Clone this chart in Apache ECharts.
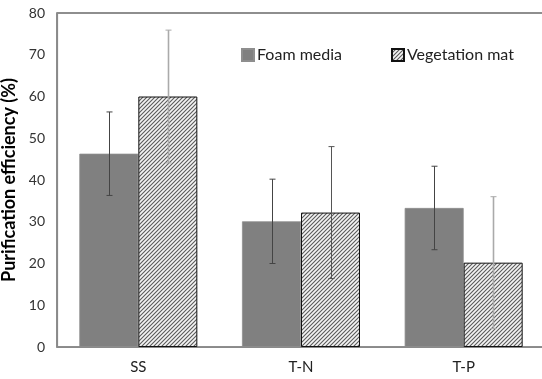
<!DOCTYPE html>
<html>
<head>
<meta charset="utf-8">
<script src="https://cdn.jsdelivr.net/npm/echarts@6/dist/echarts.min.js"></script>
<style>
html,body{margin:0;padding:0;background:#fff;}
#chart{width:542px;height:379px;}
</style>
</head>
<body>
<div id="chart"></div>
<script>
const categories = ['SS', 'T-N', 'T-P'];
const seriesNames = ['Foam media', 'Vegetation mat'];
const foamValues = [46.3, 30.1, 33.3];
const foamErrors = [10.0, 10.1, 10.0];
const vegValues = [60.0, 32.2, 20.2];
const vegErrors = [15.9, 15.8, 15.8];
const yTicks = [0, 10, 20, 30, 40, 50, 60, 70, 80];

// hatch pattern
const pc = document.createElement('canvas');
pc.width = 4; pc.height = 4;
const ctx = pc.getContext('2d');
ctx.fillStyle = '#f4f4f4';
ctx.fillRect(0, 0, 4, 4);
ctx.strokeStyle = '#5a5a5a';
ctx.lineWidth = 1.1;
ctx.beginPath();
ctx.moveTo(-1, 5); ctx.lineTo(5, -1);
ctx.moveTo(-1, 1); ctx.lineTo(1, -1);
ctx.moveTo(3, 5); ctx.lineTo(5, 3);
ctx.stroke();

const FONT = 'Lato, "Open Sans", sans-serif';
const errStyle = [
  ['#444', '#444', '#444'],
  ['#aaa', '#555', '#aaa']
];

function errSeries(vals, errs, sIdx) {
  const data = vals.map((v, i) => [i, v - errs[i], v + errs[i]]);
  return {
    type: 'custom',
    z: 10,
    silent: true,
    renderItem: function (params, api) {
      const i = api.value(0);
      const lo = api.coord([i, api.value(1)]);
      const hi = api.coord([i, api.value(2)]);
      const offset = (sIdx === 0 ? -1 : 1) * 29.5;
      const x = Math.round(lo[0] + offset) + 0.5;
      const col = errStyle[sIdx][i];
      const w = col === '#aaa' ? 1.6 : 1;
      const cap = 3;
      return {
        type: 'group',
        children: [
          {type: 'line', shape: {x1: x, y1: lo[1], x2: x, y2: hi[1]}, style: {stroke: col, lineWidth: w}},
          {type: 'line', shape: {x1: x - cap, y1: lo[1], x2: x + cap, y2: lo[1]}, style: {stroke: col, lineWidth: 1}},
          {type: 'line', shape: {x1: x - cap, y1: hi[1], x2: x + cap, y2: hi[1]}, style: {stroke: col, lineWidth: 1}}
        ]
      };
    },
    data: data
  };
}

const chart = echarts.init(document.getElementById('chart'), null, {renderer: 'canvas'});
chart.setOption({
  animation: false,
  backgroundColor: '#fff',
  grid: {left: 57, right: -3, top: 13, bottom: 32, outerBoundsMode: 'none', containLabel: false,
         show: true, borderColor: '#6a6a6a', borderWidth: 1.5, backgroundColor: 'transparent'},
  legend: {
    left: 236, top: 42, itemWidth: 12, itemHeight: 12, itemGap: 49,
    icon: 'rect',
    data: seriesNames,
    textStyle: {fontFamily: FONT, fontSize: 16, color: '#222', padding: [0, 0, 0, -2]}
  },
  xAxis: {
    type: 'category',
    data: categories,
    axisLine: {lineStyle: {color: '#8a8a8a', width: 1.2}},
    axisTick: {show: false},
    axisLabel: {fontFamily: FONT, fontSize: 15, color: '#222', margin: 13}
  },
  yAxis: {
    type: 'value',
    min: yTicks[0], max: yTicks[yTicks.length - 1], interval: 10,
    name: 'Purification efficiency (%)',
    nameLocation: 'middle',
    nameGap: 30,
    nameTextStyle: {fontFamily: FONT, fontSize: 18, fontWeight: 'bold', color: '#000'},
    axisLine: {show: true, lineStyle: {color: '#8a8a8a', width: 1.2}},
    axisTick: {show: false},
    splitLine: {show: false},
    axisLabel: {fontFamily: FONT, fontSize: 14, color: '#333', margin: 12}
  },
  series: [
    {
      name: seriesNames[0], type: 'bar', data: foamValues, barWidth: 59, barGap: '0%',
      itemStyle: {color: '#808080', borderColor: '#8e8e8e', borderWidth: 0.8}
    },
    {
      name: seriesNames[1], type: 'bar', data: vegValues, barWidth: 59,
      itemStyle: {color: {image: pc, repeat: 'repeat'}, borderColor: '#111', borderWidth: 1}
    },
    errSeries(foamValues, foamErrors, 0),
    errSeries(vegValues, vegErrors, 1)
  ]
});
</script>
</body>
</html>
